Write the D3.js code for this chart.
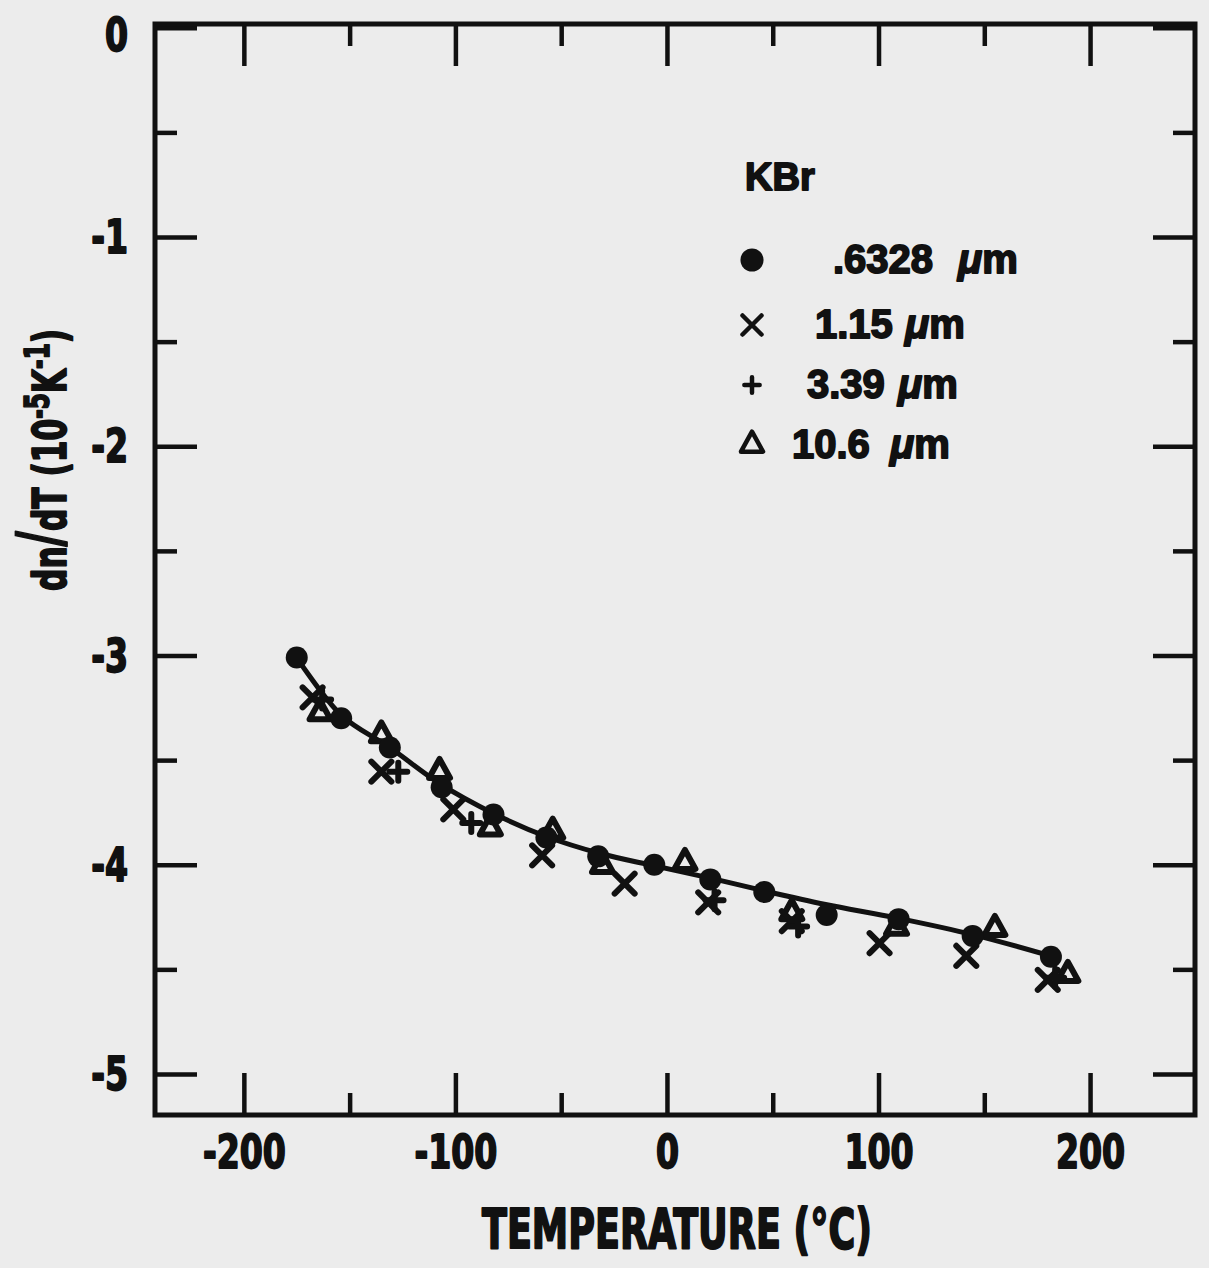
<!DOCTYPE html>
<html>
<head>
<meta charset="utf-8">
<script src="https://cdn.jsdelivr.net/npm/d3@7"></script>
<style>
  html, body { margin: 0; padding: 0; background: #ececec; }
  svg { display: block; }
  text { fill: #111; }
</style>
</head>
<body>
<svg id="chart" width="1209" height="1268"></svg>
<script>
// dn/dT of KBr against temperature, four wavelengths plus a fitted curve.

// 0.6328 µm (filled circles)
const tempCircle = [-175, -154, -131, -106.5, -82, -57, -32.5, -6, 20.5, 46, 75.5, 109.5, 144.5, 181.5];
const dndtCircle = [-3.01, -3.30, -3.44, -3.63, -3.76, -3.87, -3.96, -4.00, -4.07, -4.13, -4.24, -4.26, -4.34, -4.44];

// 1.15 µm (crosses)
const tempCross = [-167.5, -135, -101, -59, -20, 19.5, 59, 100.5, 141.5, 180];
const dndtCross = [-3.20, -3.555, -3.735, -3.955, -4.09, -4.18, -4.27, -4.375, -4.435, -4.55];

// 3.39 µm (plus signs)
const tempPlus = [-163, -127, -92.5, 22.5, 62, 183.5];
const dndtPlus = [-3.21, -3.555, -3.80, -4.17, -4.295, -4.54];

// 10.6 µm (open triangles)
const tempTri = [-164, -135, -107.5, -83.5, -54, -30.5, 8.5, 59, 108.5, 155, 189.5];
const dndtTri = [-3.275, -3.38, -3.555, -3.825, -3.84, -4.005, -3.99, -4.23, -4.30, -4.305, -4.525];

// Smooth fitted curve
const fitTemp = [-175, -154, -131, -107, -82, -57, -32, -6, 21, 46, 75, 109, 145, 181];
const fitDndt = [-3.01, -3.285, -3.44, -3.615, -3.755, -3.865, -3.945, -4.005, -4.065, -4.125, -4.19, -4.255, -4.335, -4.435];

// Axis ticks and labels
const xMajorTicks = [-200, -100, 0, 100, 200];
const xMinorTicks = [-150, -50, 50, 150];
const yMajorTicks = [0, -1, -2, -3, -4, -5];
const yMinorTicks = [-0.5, -1.5, -2.5, -3.5, -4.5];

const legendTitle = "KBr";
const seriesNames = [".6328", "1.15", "3.39", "10.6"];
const seriesShapes = ["circle", "cross", "plus", "triangle"];
const unitLabel = "\u03BCm";

const xTitle = "TEMPERATURE (\u00B0C)";

// ---- layout ----
const frame = { left: 155, right: 1195, top: 24, bottom: 1115 };
const ink = "#111";
const narrow = "'Liberation Sans Narrow', 'DejaVu Sans Condensed', 'Arial Narrow', sans-serif";
const wide = "'Liberation Sans', Arial, sans-serif";
const squeeze = 0.8;   // horizontal compression of the condensed lettering

const svg = d3.select("#chart");

const x = d3.scaleLinear().domain([-242, 249.6]).range([frame.left, frame.right]);
const y = d3.scaleLinear().domain([0.018, -5.196]).range([frame.top, frame.bottom]);

// ---- ticks on all four sides, pointing inward ----
function styleAxis(g) {
  g.select(".domain").remove();
  g.selectAll(".tick line").attr("stroke", ink).attr("stroke-width", 4.5);
}

function heavy(sel, w) {
  sel.attr("stroke", ink).attr("stroke-width", w).attr("stroke-linejoin", "round");
}

const majorLen = 42, minorLen = 22;

svg.append("g").attr("transform", `translate(0,${frame.bottom})`)
  .call(d3.axisBottom(x).tickValues(xMajorTicks).tickSizeInner(-majorLen).tickSizeOuter(0).tickPadding(20)
    .tickFormat(d => String(d)))
  .call(styleAxis)
  .call(g => g.selectAll(".tick text")
    .attr("font-family", narrow).attr("font-weight", "bold").attr("font-size", 46).attr("fill", ink)
    .attr("transform", `scale(${squeeze},1)`)
    .call(heavy, 1.8));

svg.append("g").attr("transform", `translate(0,${frame.bottom})`)
  .call(d3.axisBottom(x).tickValues(xMinorTicks).tickSizeInner(-minorLen).tickSizeOuter(0).tickFormat(""))
  .call(styleAxis);

svg.append("g").attr("transform", `translate(0,${frame.top})`)
  .call(d3.axisTop(x).tickValues(xMajorTicks).tickSizeInner(-majorLen).tickSizeOuter(0).tickFormat(""))
  .call(styleAxis);

svg.append("g").attr("transform", `translate(0,${frame.top})`)
  .call(d3.axisTop(x).tickValues(xMinorTicks).tickSizeInner(-minorLen).tickSizeOuter(0).tickFormat(""))
  .call(styleAxis);

const yLabelEnd = 27;
svg.append("g").attr("transform", `translate(${frame.left},0)`)
  .call(d3.axisLeft(y).tickValues(yMajorTicks).tickSizeInner(-majorLen).tickSizeOuter(0).tickPadding(yLabelEnd)
    .tickFormat(d => String(d)))
  .call(styleAxis)
  .call(g => g.selectAll(".tick text")
    .attr("font-family", narrow).attr("font-weight", "bold").attr("font-size", 46).attr("fill", ink)
    .attr("x", -yLabelEnd / squeeze)
    .attr("transform", `scale(${squeeze},1)`)
    .attr("dy", d => d === 0 ? "0.5em" : "0.34em")
    .call(heavy, 1.8));

svg.append("g").attr("transform", `translate(${frame.left},0)`)
  .call(d3.axisLeft(y).tickValues(yMinorTicks).tickSizeInner(-minorLen).tickSizeOuter(0).tickFormat(""))
  .call(styleAxis);

svg.append("g").attr("transform", `translate(${frame.right},0)`)
  .call(d3.axisRight(y).tickValues(yMajorTicks).tickSizeInner(-majorLen).tickSizeOuter(0).tickFormat(""))
  .call(styleAxis);

svg.append("g").attr("transform", `translate(${frame.right},0)`)
  .call(d3.axisRight(y).tickValues(yMinorTicks).tickSizeInner(-minorLen).tickSizeOuter(0).tickFormat(""))
  .call(styleAxis);

// ---- frame ----
svg.append("rect")
  .attr("x", frame.left).attr("y", frame.top)
  .attr("width", frame.right - frame.left).attr("height", frame.bottom - frame.top)
  .attr("fill", "none").attr("stroke", ink).attr("stroke-width", 5);

// ---- fitted curve ----
const fit = fitTemp.map((t, i) => [t, fitDndt[i]]);
svg.append("path")
  .datum(fit)
  .attr("fill", "none").attr("stroke", ink).attr("stroke-width", 5).attr("stroke-linecap", "round")
  .attr("d", d3.line().x(d => x(d[0])).y(d => y(d[1])).curve(d3.curveCatmullRom.alpha(0.5)));

// ---- marker shapes ----
function drawMarker(g, shape, s, sw) {
  if (shape === "circle") {
    g.append("circle").attr("r", 11 * s).attr("fill", ink);
  } else if (shape === "cross") {
    const h = 10 * s;
    g.append("path").attr("d", `M${-h},${-h}L${h},${h}M${-h},${h}L${h},${-h}`)
      .attr("stroke", ink).attr("stroke-width", sw).attr("stroke-linecap", "round").attr("fill", "none");
  } else if (shape === "plus") {
    const h = 9 * s;
    g.append("path").attr("d", `M${-h},0L${h},0M0,${-h}L0,${h}`)
      .attr("stroke", ink).attr("stroke-width", sw).attr("stroke-linecap", "round").attr("fill", "none");
  } else if (shape === "triangle") {
    const w = 10.5 * s, ht = 19 * s;
    g.append("path").attr("d", `M0,${-ht * 2 / 3}L${w},${ht / 3}L${-w},${ht / 3}Z`)
      .attr("stroke", ink).attr("stroke-width", sw).attr("stroke-linejoin", "round").attr("fill", "none");
  }
}

function plotSeries(temps, vals, shape) {
  const pts = temps.map((t, i) => [t, vals[i]]);
  svg.append("g").selectAll("g").data(pts).join("g")
    .attr("transform", d => `translate(${x(d[0])},${y(d[1])})`)
    .each(function () { drawMarker(d3.select(this), shape, 1, 6); });
}

plotSeries(tempTri, dndtTri, "triangle");
plotSeries(tempCross, dndtCross, "cross");
plotSeries(tempPlus, dndtPlus, "plus");
plotSeries(tempCircle, dndtCircle, "circle");

// ---- legend ----
const legend = svg.append("g");
legend.append("text")
  .attr("x", 745).attr("y", 190)
  .attr("font-family", wide).attr("font-weight", "bold").attr("font-size", 38)
  .call(heavy, 1.8)
  .text(legendTitle);

const rowY = [260, 325, 385, 445];
const numX = [833, 815, 807, 792];
const unitX = [958, 905, 898, 890];
const markerScale = [1.05, 0.95, 0.85, 1.05];
seriesNames.forEach((name, i) => {
  const mg = legend.append("g").attr("transform", `translate(752,${rowY[i]})`);
  drawMarker(mg, seriesShapes[i], markerScale[i], 4.5);
  const t = legend.append("text")
    .attr("y", rowY[i] + 13)
    .attr("font-family", wide).attr("font-weight", "bold").attr("font-size", 40)
    .call(heavy, 1.8);
  t.append("tspan").attr("x", numX[i]).text(name);
  const u = t.append("tspan").attr("x", unitX[i]);
  u.append("tspan").attr("font-style", "italic").text(unitLabel[0]);
  u.append("tspan").text(unitLabel.slice(1));
});

// ---- axis titles ----
svg.append("text")
  .attr("x", 677).attr("y", 1248)
  .attr("text-anchor", "middle")
  .attr("font-family", narrow).attr("font-weight", "bold").attr("font-size", 56)
  .attr("textLength", 390).attr("lengthAdjust", "spacingAndGlyphs")
  .call(heavy, 2)
  .text(xTitle);

const yt = svg.append("text")
  .attr("text-anchor", "middle")
  .attr("font-family", narrow).attr("font-weight", "bold").attr("font-size", 46)
  .call(heavy, 1.8);
yt.append("tspan").text("dn");
yt.append("tspan").attr("font-size", 62).attr("dy", -5).text("/");
yt.append("tspan").attr("dy", 5).text("dT (10");
yt.append("tspan").attr("font-size", 34).attr("dy", -17).text("-5");
yt.append("tspan").attr("dy", 17).text("K");
yt.append("tspan").attr("font-size", 34).attr("dy", -17).text("-1");
yt.append("tspan").attr("dy", 17).text(")");
// compress the rotated title to its lettered length
const ytWidth = yt.node().getBBox().width;
const ytScale = ytWidth > 0 ? 262 / ytWidth : 1;
yt.attr("transform", `translate(66,460) rotate(-90) scale(${ytScale},1)`);
</script>
</body>
</html>
